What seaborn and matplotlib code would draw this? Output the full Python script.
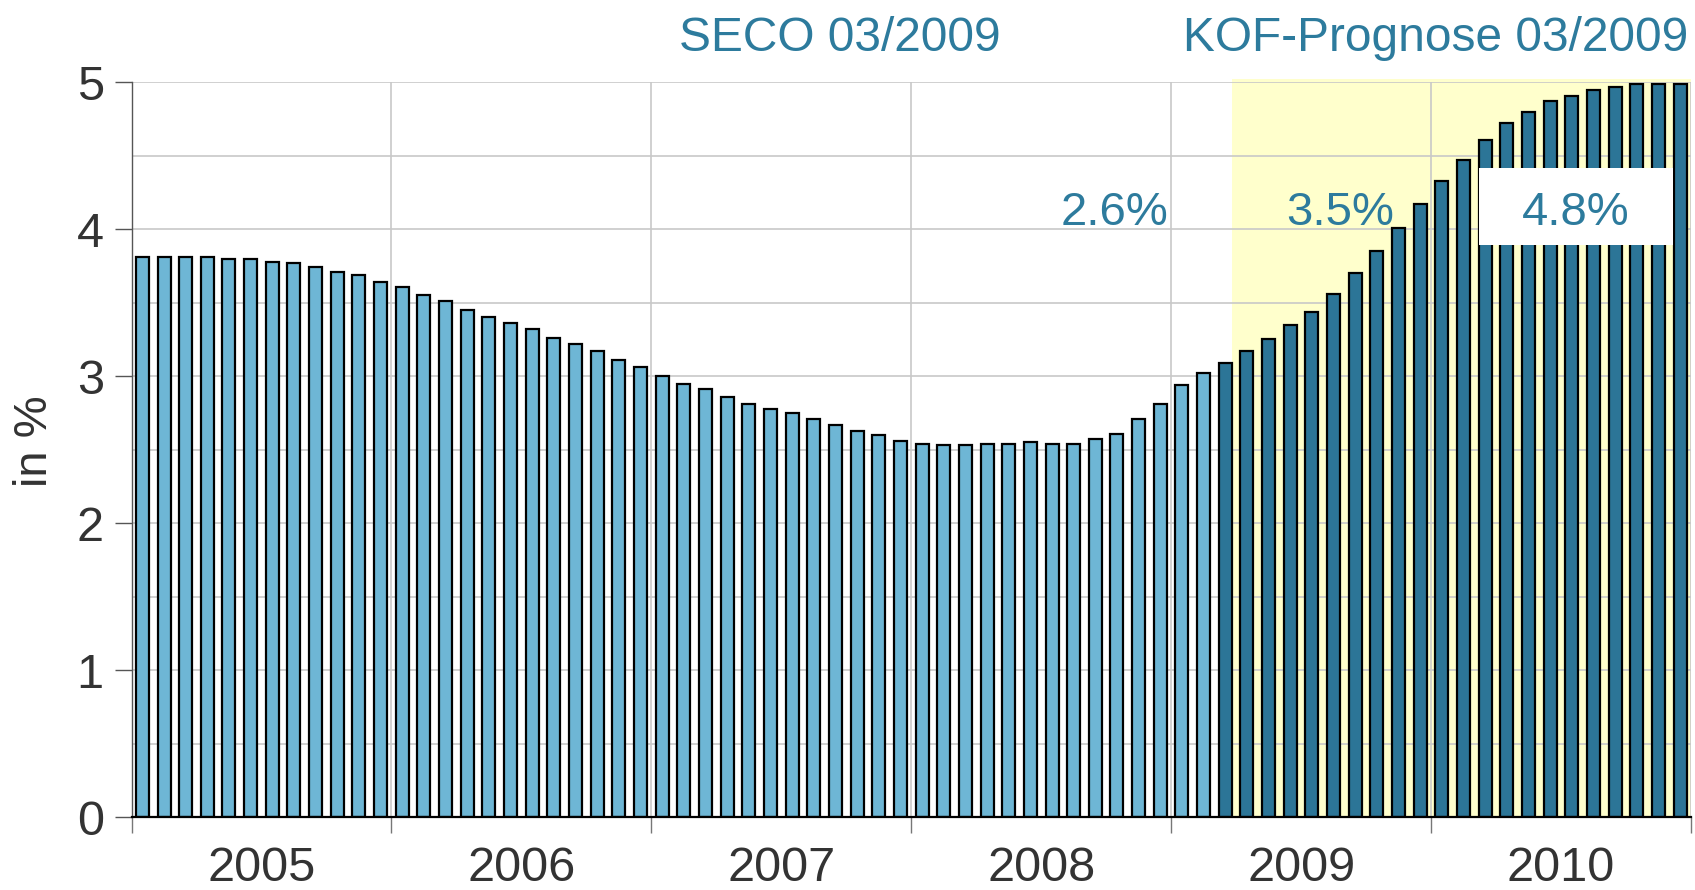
import numpy as np
import pandas as pd
import seaborn as sns
import matplotlib.pyplot as plt
import matplotlib.ticker as ticker
from matplotlib.patches import Rectangle

# monthly values, Jan 2005 - Feb 2009 (SECO) and Mar 2009 - Dec 2010 (KOF forecast)
rate_hist = [3.81, 3.81, 3.81, 3.81, 3.80, 3.80, 3.78, 3.77, 3.74, 3.71, 3.69, 3.64,
             3.61, 3.55, 3.51, 3.45, 3.40, 3.36, 3.32, 3.26, 3.22, 3.17, 3.11, 3.06,
             3.00, 2.95, 2.91, 2.86, 2.81, 2.78, 2.75, 2.71, 2.67, 2.63, 2.60, 2.56,
             2.54, 2.53, 2.53, 2.54, 2.54, 2.55, 2.54, 2.54, 2.57, 2.61, 2.71, 2.81,
             2.94, 3.02]
rate_forecast = [3.09, 3.17, 3.25, 3.35, 3.44, 3.56, 3.70, 3.85, 4.01, 4.17, 4.33,
                 4.47, 4.61, 4.72, 4.80, 4.87, 4.91, 4.95, 4.97, 4.99, 4.99, 4.99]
years = ['2005', '2006', '2007', '2008', '2009', '2010']
annual_labels = ['2.6%', '3.5%', '4.8%']

TEAL = '#2D7B9D'
LIGHT = '#6EB6D5'
DARK = '#2C7597'

values = rate_hist + rate_forecast
df = pd.DataFrame({
    'month': np.arange(len(values)),
    'rate': values,
    'phase': ['hist'] * len(rate_hist) + ['prog'] * len(rate_forecast),
})

sns.set_theme(style="whitegrid")
plt.rcParams['font.family'] = ['Liberation Sans', 'DejaVu Sans']

fig = plt.figure(figsize=(16.95, 8.9), dpi=100)
ax = fig.add_axes([0.0776, 0.082, 0.92, 0.8255])
ax.set_facecolor('white')

# forecast shading
start = len(rate_hist) + 0.3
ax.axvspan(start, len(values) - 0.5, ymin=0, ymax=1.005, color='#FFFFCC',
           zorder=0.2, clip_on=False, lw=0)

sns.barplot(data=df, x='month', y='rate', hue='phase', dodge=False,
            palette={'hist': LIGHT, 'prog': DARK}, saturation=1, width=0.6,
            edgecolor='black', linewidth=1.6, legend=False, ax=ax, zorder=2)

ax.set_xlim(-0.5, len(values) - 0.5)
ax.set_ylim(0, 5)
ax.set_axisbelow(True)

# axes / ticks
ax.xaxis.set_major_locator(ticker.FixedLocator(np.arange(-0.5, len(values), 12)))
ax.xaxis.set_major_formatter(ticker.NullFormatter())
ax.xaxis.set_minor_locator(ticker.FixedLocator(np.arange(5.5, len(values), 12)))
ax.xaxis.set_minor_formatter(ticker.FixedFormatter(years))
ax.yaxis.set_major_locator(ticker.MultipleLocator(1))
ax.yaxis.set_minor_locator(ticker.MultipleLocator(0.5))

ax.grid(True, which='major', axis='both', color='#C8C8C8', lw=1.2)
ax.grid(True, which='minor', axis='y', color='#C8C8C8', lw=1.2)
ax.grid(False, which='minor', axis='x')

ax.tick_params(axis='x', which='major', length=11.5, width=1, color='#777777',
               direction='out', bottom=True)
ax.tick_params(axis='x', which='minor', length=0, pad=21, labelsize=35,
               labelcolor='#333333', bottom=True)
ax.tick_params(axis='y', which='major', length=12, width=1, color='#555555',
               direction='out', left=True, pad=8, labelsize=35, labelcolor='#333333')
ax.tick_params(axis='y', which='minor', length=0)

for side in ['top', 'right']:
    ax.spines[side].set_visible(False)
ax.spines['left'].set_color('#555555')
ax.spines['left'].set_linewidth(1)
ax.spines['bottom'].set_color('black')
ax.spines['bottom'].set_linewidth(1.6)
ax.spines['bottom'].set_zorder(3)

ax.set_xlabel('')
ax.set_ylabel('')
fig.text(35 / 1695, 1 - 441 / 890, 'in %', rotation=90, ha='center', va='center',
         fontsize=34, color='#333333')

# annual averages
ax.add_patch(Rectangle((61.72, 3.894), 8.96, 0.524, facecolor='white',
                       edgecolor='none', zorder=3))
for xpos, lab in zip([44.9, 55.3, 66.16], annual_labels):
    ax.text(xpos, 4.03, lab, ha='center', va='baseline', fontsize=34,
            color=TEAL, zorder=4)

fig.text(840 / 1695, 1 - 50.7 / 890, 'SECO 03/2009', ha='center', va='baseline',
         fontsize=34.5, color=TEAL)
fig.text(1688 / 1695, 1 - 50.7 / 890, 'KOF-Prognose 03/2009', ha='right',
         va='baseline', fontsize=34.5, color=TEAL)

fig.savefig('out.png', dpi=100)
